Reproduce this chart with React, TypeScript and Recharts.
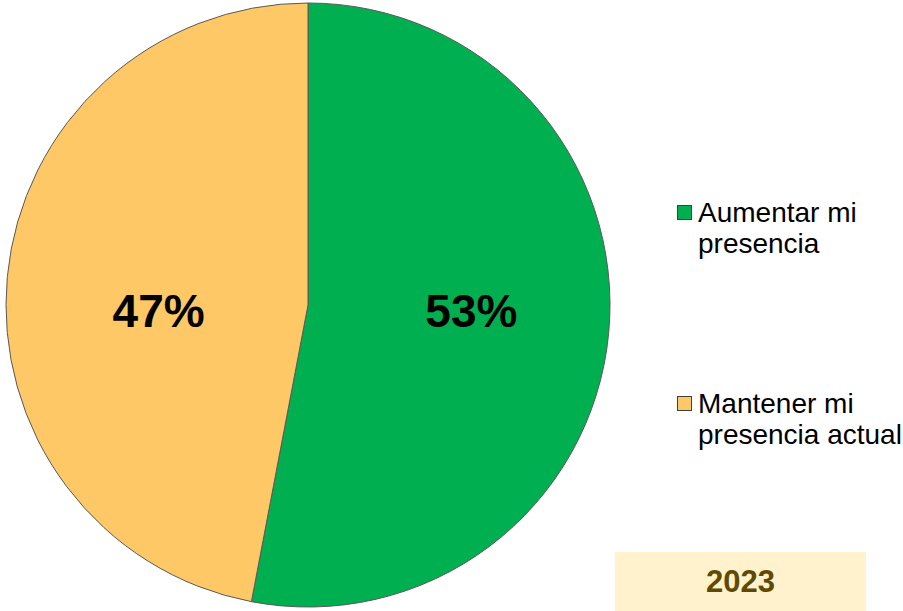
import React from 'react';
import { PieChart, Pie, Cell, Legend } from 'recharts';

const categories = ['Aumentar mi presencia', 'Mantener mi presencia actual'];
const legendLines = [['Aumentar mi', 'presencia'], ['Mantener mi', 'presencia actual']];
const values = [53, 47];
const colors = ['#00B050', '#FFC866'];
const yearLabel = '2023';

const data = categories.map((name, i) => ({ name, value: values[i] }));

const RADIAN = Math.PI / 180;

const renderLabel = (props: any) => {
  const { cx, cy, midAngle, outerRadius, value } = props;
  const r = outerRadius * 0.52;
  const x = cx + r * Math.cos(-midAngle * RADIAN) + 7;
  return (
    <text
      x={x}
      y={cy + 6}
      textAnchor="middle"
      dominantBaseline="central"
      fill="#000"
      style={{ fontSize: 46, fontWeight: 700, fontFamily: 'Liberation Sans, Arial, sans-serif' }}
    >
      {`${value}%`}
    </text>
  );
};

const renderLegend = () => (
  <div style={{ fontFamily: 'Liberation Sans, Arial, sans-serif', fontSize: 28, color: '#000' }}>
    {legendLines.map((lines, i) => (
      <div key={i} style={{ position: 'relative', paddingLeft: 21, lineHeight: '31px', marginBottom: i === 0 ? 129 : 0 }}>
        <span
          style={{
            position: 'absolute',
            left: 0,
            top: 8,
            width: 13,
            height: 13,
            background: colors[i],
            border: '1px solid #404040',
          }}
        />
        {lines.map((l) => (
          <div key={l}>{l}</div>
        ))}
      </div>
    ))}
  </div>
);

export default function App() {
  return (
    <div style={{ position: 'absolute', left: 0, top: 0, width: 903, height: 611, background: '#fff' }}>
      <PieChart width={903} height={611} margin={{ top: 0, right: 0, bottom: 0, left: 0 }}>
        <Pie
          data={data}
          dataKey="value"
          nameKey="name"
          cx={308}
          cy={305}
          outerRadius={302}
          startAngle={90}
          endAngle={-270}
          stroke="#595959"
          strokeWidth={1}
          label={renderLabel}
          labelLine={false}
          isAnimationActive={false}
        >
          {data.map((d, i) => (
            <Cell key={d.name} fill={colors[i]} />
          ))}
        </Pie>
        <Legend
          content={renderLegend}
          layout="vertical"
          wrapperStyle={{ position: 'absolute', left: 677, top: 197, width: 226 }}
        />
      </PieChart>
      <div
        style={{
          position: 'absolute',
          left: 615,
          top: 552,
          width: 251,
          height: 59,
          background: '#FFF2CC',
          color: '#604A00',
          fontFamily: 'Liberation Sans, Arial, sans-serif',
          fontWeight: 700,
          fontSize: 31,
          display: 'flex',
          alignItems: 'center',
          justifyContent: 'center',
        }}
      >
        {yearLabel}
      </div>
    </div>
  );
}
